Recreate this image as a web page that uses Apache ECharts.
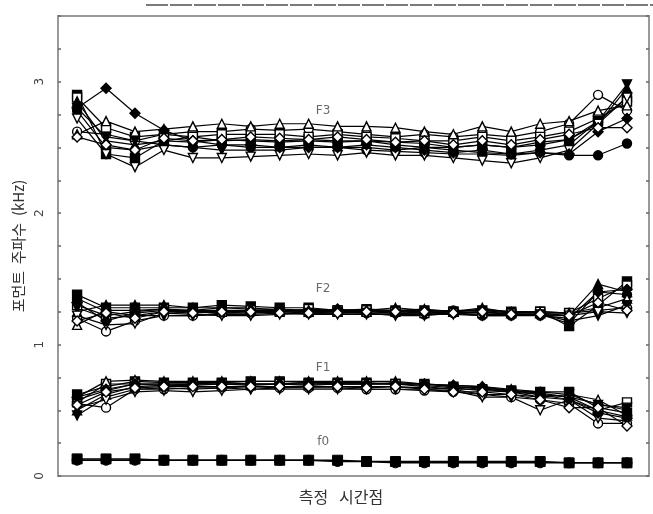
<!DOCTYPE html>
<html>
<head>
<meta charset="utf-8">
<script src="https://cdn.jsdelivr.net/npm/echarts@6/dist/echarts.min.js"></script>
<style>
  html, body { margin: 0; padding: 0; background: #fff; }
  #chart { width: 653px; height: 514px; }
</style>
</head>
<body>
<div id="chart"></div>
<script>
// measurement points 1..20
const timePoints = [1,2,3,4,5,6,7,8,9,10,11,12,13,14,15,16,17,18,19,20];
const yTicks = [0, 1, 2, 3];

// F3 (kHz), one row per speaker
const F3 = [
  [2.78,2.50,2.48,2.52,2.50,2.52,2.50,2.50,2.52,2.50,2.48,2.47,2.46,2.45,2.45,2.44,2.46,2.44,2.44,2.53],
  [2.62,2.60,2.55,2.60,2.62,2.62,2.64,2.63,2.64,2.62,2.60,2.58,2.60,2.58,2.60,2.58,2.62,2.68,2.90,2.78],
  [2.90,2.45,2.42,2.55,2.58,2.55,2.56,2.55,2.56,2.55,2.55,2.54,2.53,2.50,2.52,2.50,2.54,2.56,2.70,2.88],
  [2.88,2.65,2.58,2.60,2.58,2.60,2.60,2.60,2.58,2.60,2.58,2.57,2.55,2.55,2.58,2.55,2.58,2.62,2.72,2.85],
  [2.85,2.55,2.52,2.55,2.54,2.56,2.55,2.54,2.55,2.54,2.55,2.52,2.50,2.50,2.52,2.50,2.52,2.56,2.68,2.95],
  [2.60,2.70,2.62,2.64,2.66,2.68,2.66,2.68,2.68,2.66,2.66,2.65,2.62,2.60,2.66,2.62,2.68,2.70,2.78,2.82],
  [2.80,2.58,2.55,2.52,2.50,2.48,2.48,2.48,2.50,2.50,2.50,2.48,2.50,2.48,2.46,2.45,2.48,2.52,2.70,2.98],
  [2.72,2.45,2.35,2.48,2.42,2.42,2.43,2.44,2.45,2.44,2.46,2.44,2.44,2.42,2.40,2.38,2.42,2.48,2.68,2.88],
  [2.80,2.95,2.76,2.63,2.55,2.52,2.52,2.50,2.50,2.50,2.52,2.50,2.48,2.46,2.48,2.45,2.46,2.45,2.62,2.72],
  [2.58,2.52,2.48,2.57,2.55,2.56,2.58,2.57,2.56,2.58,2.56,2.54,2.55,2.52,2.55,2.52,2.56,2.60,2.65,2.65]
];
const F2 = [
  [1.35,1.25,1.22,1.25,1.25,1.24,1.24,1.25,1.24,1.25,1.24,1.24,1.23,1.24,1.22,1.22,1.22,1.20,1.40,1.38],
  [1.20,1.10,1.18,1.22,1.22,1.24,1.25,1.25,1.26,1.25,1.26,1.25,1.25,1.26,1.26,1.24,1.25,1.24,1.26,1.28],
  [1.38,1.28,1.28,1.28,1.28,1.30,1.29,1.28,1.28,1.26,1.27,1.26,1.26,1.25,1.26,1.25,1.25,1.14,1.30,1.48],
  [1.30,1.22,1.25,1.27,1.25,1.25,1.26,1.25,1.27,1.26,1.26,1.25,1.24,1.25,1.24,1.24,1.25,1.24,1.35,1.45],
  [1.25,1.30,1.30,1.30,1.28,1.28,1.27,1.27,1.26,1.26,1.26,1.28,1.26,1.25,1.28,1.24,1.24,1.22,1.46,1.40],
  [1.15,1.26,1.26,1.27,1.26,1.28,1.28,1.26,1.25,1.25,1.25,1.26,1.27,1.25,1.27,1.25,1.24,1.24,1.28,1.35],
  [1.28,1.20,1.22,1.22,1.22,1.23,1.23,1.24,1.23,1.23,1.23,1.23,1.23,1.23,1.22,1.22,1.23,1.18,1.22,1.30],
  [1.22,1.15,1.16,1.24,1.23,1.22,1.22,1.23,1.24,1.24,1.24,1.22,1.22,1.24,1.23,1.23,1.22,1.22,1.25,1.24],
  [1.32,1.18,1.24,1.26,1.26,1.26,1.26,1.26,1.25,1.27,1.25,1.24,1.24,1.24,1.25,1.23,1.23,1.16,1.40,1.42],
  [1.18,1.24,1.20,1.25,1.24,1.25,1.25,1.24,1.24,1.24,1.25,1.25,1.25,1.24,1.25,1.23,1.23,1.22,1.32,1.26]
];
const F1 = [
  [0.58,0.65,0.70,0.70,0.70,0.70,0.70,0.70,0.70,0.70,0.70,0.70,0.68,0.66,0.66,0.64,0.62,0.60,0.50,0.45],
  [0.55,0.52,0.66,0.66,0.67,0.67,0.68,0.67,0.67,0.67,0.66,0.66,0.65,0.64,0.62,0.60,0.58,0.55,0.40,0.40],
  [0.62,0.68,0.72,0.71,0.71,0.71,0.72,0.72,0.71,0.71,0.71,0.70,0.70,0.68,0.66,0.65,0.64,0.64,0.52,0.48],
  [0.56,0.70,0.70,0.69,0.69,0.70,0.69,0.70,0.70,0.70,0.70,0.70,0.69,0.67,0.65,0.64,0.60,0.58,0.50,0.56],
  [0.50,0.62,0.68,0.69,0.70,0.70,0.70,0.70,0.69,0.70,0.70,0.71,0.70,0.68,0.67,0.65,0.63,0.60,0.55,0.50],
  [0.60,0.72,0.73,0.72,0.72,0.72,0.72,0.72,0.72,0.72,0.72,0.72,0.70,0.69,0.68,0.66,0.64,0.62,0.58,0.46],
  [0.46,0.60,0.66,0.67,0.66,0.67,0.66,0.67,0.68,0.68,0.68,0.68,0.67,0.66,0.62,0.62,0.60,0.62,0.54,0.52],
  [0.52,0.58,0.64,0.65,0.64,0.65,0.66,0.66,0.66,0.66,0.66,0.66,0.66,0.65,0.60,0.60,0.50,0.58,0.44,0.42],
  [0.60,0.66,0.70,0.70,0.70,0.71,0.70,0.70,0.71,0.70,0.70,0.70,0.70,0.69,0.68,0.65,0.62,0.58,0.48,0.44],
  [0.54,0.64,0.67,0.68,0.68,0.68,0.68,0.68,0.68,0.68,0.67,0.68,0.66,0.64,0.64,0.62,0.58,0.52,0.52,0.38]
];
const f0 = [
  [0.13,0.13,0.13,0.12,0.12,0.12,0.12,0.12,0.12,0.12,0.11,0.11,0.11,0.11,0.11,0.11,0.11,0.10,0.10,0.10],
  [0.12,0.12,0.12,0.12,0.12,0.12,0.12,0.12,0.12,0.11,0.11,0.10,0.10,0.10,0.10,0.10,0.10,0.10,0.10,0.10]
];
const bandNames = ['F3', 'F2', 'F1', 'f0'];
const bandLabelY = [2.78, 1.42, 0.82, 0.26];

// marker style per speaker
const markers = [
  { symbol: 'circle', fill: '#000', rot: 0 },
  { symbol: 'circle', fill: '#fff', rot: 0 },
  { symbol: 'rect', fill: '#000', rot: 0 },
  { symbol: 'rect', fill: '#fff', rot: 0 },
  { symbol: 'triangle', fill: '#000', rot: 0 },
  { symbol: 'triangle', fill: '#fff', rot: 0 },
  { symbol: 'triangle', fill: '#000', rot: 180 },
  { symbol: 'triangle', fill: '#fff', rot: 180 },
  { symbol: 'diamond', fill: '#000', rot: 0 },
  { symbol: 'diamond', fill: '#fff', rot: 0 }
];

function makeSeries(name, rows) {
  return rows.map((row, i) => {
    const m = markers[i % markers.length];
    return {
      name: name + '-' + (i + 1),
      type: 'line',
      data: row.map((v, k) => [timePoints[k], v]),
      symbol: m.symbol,
      symbolRotate: m.rot,
      symbolSize: m.symbol === 'diamond' ? 10 : 9,
      animation: false,
      lineStyle: { color: '#000', width: 1.2 },
      itemStyle: { color: m.fill, borderColor: '#000', borderWidth: 1.4 },
      emphasis: { disabled: true },
      z: 3
    };
  });
}

const series = []
  .concat(makeSeries('F3', F3))
  .concat(makeSeries('F2', F2))
  .concat(makeSeries('F1', F1))
  .concat(f0.map((row, i) => ({
    name: 'f0-' + (i + 1),
    type: 'line',
    data: row.map((v, k) => [timePoints[k], v]),
    symbol: i === 0 ? 'rect' : 'circle',
    symbolSize: 10,
    animation: false,
    lineStyle: { color: '#000', width: 1.5 },
    itemStyle: { color: '#000', borderColor: '#000' },
    z: 3
  })));

// band labels (F3, F2, F1, f0)
series.push({
  type: 'scatter',
  symbolSize: 0,
  data: bandNames.map((n, i) => ({ value: [9.5, bandLabelY[i]], name: n })),
  label: {
    show: true,
    formatter: '{b}',
    position: 'inside',
    color: '#444',
    fontSize: 12,
    fontFamily: 'DejaVu Sans'
  },
  silent: true,
  animation: false,
  z: 5
});

const chart = echarts.init(document.getElementById('chart'));
chart.setOption({
  backgroundColor: '#fff',
  grid: { left: 58, right: 4, top: 16, bottom: 38, show: true, borderColor: '#999', borderWidth: 2 },
  xAxis: {
    type: 'value',
    min: 0.34,
    max: 20.76,
    axisLine: { show: false },
    axisTick: { show: false },
    axisLabel: { show: false },
    splitLine: { show: false }
  },
  yAxis: [
    {
      type: 'value',
      min: 0,
      max: 3.5,
      interval: 0.25,
      name: '포먼트 \u00a0주파수 \u00a0(kHz)',
      nameLocation: 'middle',
      nameGap: 30,
      nameTextStyle: { fontSize: 15, color: '#333', fontFamily: 'Noto Sans CJK KR' },
      axisLine: { show: false },
      axisTick: { show: true, inside: true, length: 3, lineStyle: { color: '#666', width: 1.5 } },
      axisLabel: {
        rotate: 90,
        margin: 12,
        fontSize: 12,
        color: '#444',
        fontFamily: 'DejaVu Sans',
        formatter: v => (yTicks.indexOf(v) >= 0 ? String(v) : '')
      },
      splitLine: { show: false }
    },
    {
      type: 'value',
      position: 'right',
      min: 0,
      max: 3.5,
      interval: 0.25,
      axisLine: { show: false },
      axisTick: { show: true, inside: true, length: 3, lineStyle: { color: '#666', width: 1.5 } },
      axisLabel: { show: false },
      splitLine: { show: false }
    }
  ],
  graphic: [
    {
      type: 'line',
      shape: { x1: 146, y1: 5, x2: 653, y2: 5 },
      style: { stroke: '#7a7a7a', lineWidth: 2, lineDash: [22, 2] },
      silent: true
    },
    {
      type: 'text',
      x: 341,
      y: 497,
      style: {
        text: '측정 \u00a0\u00a0시간점',
        fontSize: 16,
        fill: '#333',
        align: 'center',
        verticalAlign: 'middle',
        fontFamily: 'Noto Sans CJK KR'
      }
    }
  ],
  series: series
});
</script>
</body>
</html>
